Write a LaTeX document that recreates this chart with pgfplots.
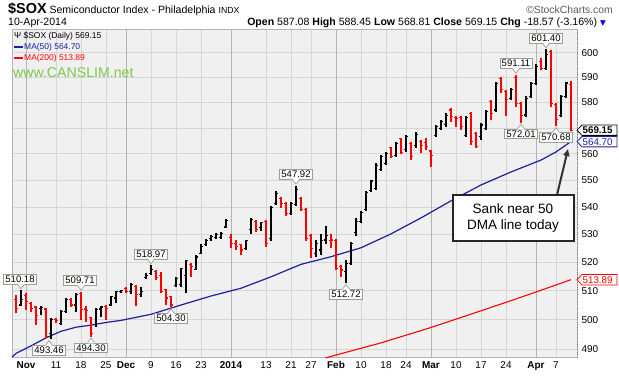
\documentclass[border=0pt]{standalone}
\usepackage{fontspec}
\setmainfont{Liberation Sans}
\newfontfamily\dejavu{DejaVu Sans}
\usepackage{pgfplots}
\pgfplotsset{compat=1.18}
\usepackage{pgfplotstable}
\usetikzlibrary{arrows.meta}

\definecolor{bg}{RGB}{240,240,240}
\definecolor{gridc}{RGB}{214,214,214}
\definecolor{gridm}{RGB}{180,180,180}
\definecolor{navy}{RGB}{30,30,160}
\definecolor{cgray}{RGB}{150,160,150}
\definecolor{cgreen}{RGB}{125,200,75}
\definecolor{hdrgray}{RGB}{90,90,90}

\pgfdeclareplotmark{tickL}{\pgfpathmoveto{\pgfqpoint{-2.4bp}{0pt}}\pgfpathlineto{\pgfqpoint{0pt}{0pt}}\pgfusepathqstroke}
\pgfdeclareplotmark{tickR}{\pgfpathmoveto{\pgfqpoint{0pt}{0pt}}\pgfpathlineto{\pgfqpoint{2.4bp}{0pt}}\pgfusepathqstroke}

% up (black) bars: trading-day index, open, high, low, close
\pgfplotstableread{
d o h l c
-2 505.1 510.18 504.8 506.9
2 504.0 504.8 501.7 504.2
4 495.5 500.6 493.46 500.2
6 498.9 503.4 498.3 502.8
7 502.8 507.5 502.3 506.9
9 505.1 509.2 502.8 508.6
13 498.3 504.0 497.7 503.4
14 503.7 504.6 501.1 504.4
16 505.1 508.3 504.6 508.0
17 507.5 509.9 505.7 509.7
18 509.9 510.3 509.2 510.1
20 509.7 512.6 508.9 512.1
22 508.6 511.4 508.0 509.7
23 514.7 516.1 514.0 515.5
24 516.1 518.97 515.5 517.5
29 511.7 515.0 511.4 514.4
30 512.1 518.0 511.4 517.7
31 515.5 520.9 509.2 520.6
33 517.5 522.5 517.3 521.9
34 523.3 526.6 523.1 525.8
35 526.3 528.4 525.8 527.8
36 528.4 529.9 527.8 529.4
37 529.0 530.5 528.4 529.9
38 529.0 530.9 528.2 530.3
39 532.7 535.6 532.4 535.0
43 525.0 528.0 524.4 527.7
44 531.7 536.0 530.2 535.6
46 532.4 534.7 531.3 534.2
48 528.4 540.3 527.8 539.7
49 541.4 545.8 540.8 545.2
52 537.8 542.0 537.2 541.4
53 540.8 547.92 540.3 546.4
57 523.1 528.0 521.9 526.6
58 524.4 530.2 522.7 527.8
59 528.0 533.0 526.6 529.7
63 516.7 520.9 512.72 519.7
64 519.7 527.4 519.1 526.8
65 530.8 536.0 529.5 534.7
66 534.7 538.4 534.2 538.1
67 539.0 545.8 538.4 545.4
68 546.0 550.1 545.8 549.7
69 546.8 556.4 546.4 555.6
70 553.9 559.5 553.3 558.9
71 556.4 560.8 555.6 560.2
73 559.5 564.6 558.9 564.0
75 561.5 567.2 560.8 566.6
77 563.3 568.3 562.1 567.4
81 567.0 571.1 566.6 570.5
82 569.9 573.1 569.2 572.4
83 571.4 575.7 570.5 574.8
87 567.2 574.8 566.6 574.2
90 566.6 571.8 565.3 571.1
91 569.9 577.0 569.2 576.3
93 577.0 588.2 576.1 587.6
96 581.6 585.9 581.0 585.0
99 575.0 582.4 574.2 581.6
100 582.3 588.2 581.6 587.6
101 587.6 595.2 587.0 594.4
103 593.7 601.40 593.0 599.1
106 574.8 582.8 574.2 582.3
107 582.3 588.3 581.6 587.72
}\upbars

% down (red) bars
\pgfplotstableread{
d o h l c
-3 507.1 508.6 502.3 504.0
-1 508.3 509.2 503.4 506.3
0 505.7 506.3 502.8 504.0
1 504.4 504.6 498.3 501.4
3 503.7 504.0 493.8 494.4
5 500.2 500.6 498.9 499.8
8 506.9 507.5 504.4 505.1
10 509.2 509.71 500.0 503.4
11 503.7 504.6 499.4 503.2
12 500.9 501.1 494.30 495.4
15 504.6 505.1 500.0 504.0
19 510.8 511.4 509.2 509.9
21 511.4 512.1 504.6 508.6
25 516.7 517.3 513.8 514.7
26 515.5 516.7 509.4 509.7
27 510.3 510.8 505.1 507.5
28 508.0 508.3 504.30 505.1
32 519.1 519.7 515.0 518.5
40 529.0 530.3 525.1 526.6
41 526.6 528.0 524.4 525.8
42 526.3 526.6 522.5 524.4
45 534.7 535.3 530.8 531.7
47 534.7 535.3 525.5 526.6
50 543.3 543.9 539.7 541.4
51 541.4 542.0 536.6 537.8
54 543.3 543.9 538.4 539.0
55 539.0 539.7 527.8 528.4
56 529.7 530.3 521.7 525.0
60 527.8 530.3 525.0 528.0
61 527.8 528.4 517.3 517.9
62 518.5 519.1 515.0 517.3
72 562.4 562.7 558.4 558.9
74 565.7 566.2 559.8 560.6
76 564.0 564.6 557.7 558.9
78 564.6 565.3 560.2 563.3
79 564.4 565.9 561.5 562.8
80 561.1 561.5 555.0 559.5
84 577.0 577.6 572.4 574.5
85 574.2 574.8 570.5 573.5
86 574.2 574.8 569.2 570.5
88 575.7 576.3 563.3 564.6
89 567.9 568.5 562.1 562.7
92 580.3 581.0 573.1 575.7
94 589.5 590.1 583.7 585.0
95 584.4 585.0 574.8 581.0
97 590.1 591.11 578.0 579.4
98 579.7 580.3 572.01 574.8
102 596.4 597.7 593.0 593.5
104 600.4 601.1 578.0 579.7
105 579.0 579.7 570.68 573.1
108 587.08 588.45 568.81 569.15
}\dnbars

\pgfplotstableread{
d v
-3.8 487.4
-3 488.7
0 491.2
3 493.9
6 496.1
9 497.5
12 498.2
15 499.1
18 499.8
24 501.9
30 505.1
36 508.2
42 510.9
48 514.9
54 519.3
60 522.0
66 525.2
72 530.2
78 536.0
84 542.3
90 548.2
96 553.1
102 557.6
105 560.7
108 564.70
}\maF

\pgfplotstableread{
d v
58.9 487.2
70 492.2
80 497.4
90 503.1
96 506.6
102 510.2
108 513.89
}\maT

\tikzset{
  lbox/.style={draw=cgray, fill=white, line width=0.7bp,
    font=\fontsize{9.6}{10}\selectfont, inner xsep=1.6bp, inner ysep=1.4bp},
}
% label above a high: #1 = index, #2 = value, #3 = box x-offset
\newcommand{\hiLab}[3]{%
  \node[lbox, anchor=south] at ([xshift=#3, yshift=6bp]axis cs:#1,#2) {#2};
  \fill[white] ([yshift=1.5bp]axis cs:#1,#2) -- ([xshift=-3.6bp,yshift=6.8bp]axis cs:#1,#2) -- ([xshift=3.6bp,yshift=6.8bp]axis cs:#1,#2) -- cycle;
  \draw[cgray, line width=0.7bp] ([xshift=-3.4bp,yshift=6bp]axis cs:#1,#2) -- ([yshift=1.5bp]axis cs:#1,#2) -- ([xshift=3.4bp,yshift=6bp]axis cs:#1,#2);
}
\newcommand{\loLab}[3]{%
  \node[lbox, anchor=north] at ([xshift=#3, yshift=-6bp]axis cs:#1,#2) {#2};
  \fill[white] ([yshift=-1.5bp]axis cs:#1,#2) -- ([xshift=-3.6bp,yshift=-6.8bp]axis cs:#1,#2) -- ([xshift=3.6bp,yshift=-6.8bp]axis cs:#1,#2) -- cycle;
  \draw[cgray, line width=0.7bp] ([xshift=-3.4bp,yshift=-6bp]axis cs:#1,#2) -- ([yshift=-1.5bp]axis cs:#1,#2) -- ([xshift=3.4bp,yshift=-6bp]axis cs:#1,#2);
}

\begin{document}
\begin{tikzpicture}
\path[use as bounding box] (0,0) rectangle (619bp,376bp);
\fill[white] (0,0) rectangle (619bp,376bp);
\begin{axis}[
  at={(12bp,18bp)}, anchor=south west,
  scale only axis, width=565bp, height=328bp,
  clip=false,
  ymode=log,
  xmin=-3.8, xmax=109.2, ymin=487.2, ymax=609.4,
  axis background/.style={fill=bg},
  axis line style={draw=gridm, line width=0.8bp},
  major tick length=0pt,
  xtick={-1,5,10,15,19,24,29,34,40,47,52,56,61,66,71,75,80,85,90,95,101,105},
  xticklabels={\textbf{Nov},11,18,25,\textbf{Dec},9,16,23,\textbf{2014},13,21,27,\textbf{Feb},10,18,24,\textbf{Mar},10,17,24,\textbf{Apr},7},
  ytick={490,500,510,520,530,540,550,560,570,580,590,600},
  yticklabels={490,500,510,520,530,540,550,560,,580,590,600},
  yticklabel pos=right,
  xmajorgrids, ymajorgrids,
  grid style={draw=gridc, line width=0.7bp},
  tick label style={font=\fontsize{10}{10}\selectfont},
  yticklabel style={anchor=west, xshift=1bp},
  xticklabel style={anchor=north, inner sep=0pt, yshift=-3.5bp},
  /pgf/number format/assume math mode=true,
]
% month grid lines darker
\addplot[gridm, line width=0.8bp, forget plot] coordinates {(-1,487.2) (-1,609.4)};
\addplot[gridm, line width=0.8bp, forget plot] coordinates {(19,487.2) (19,609.4)};
\addplot[gridm, line width=0.8bp, forget plot] coordinates {(40,487.2) (40,609.4)};
\addplot[gridm, line width=0.8bp, forget plot] coordinates {(61,487.2) (61,609.4)};
\addplot[gridm, line width=0.8bp, forget plot] coordinates {(80,487.2) (80,609.4)};
\addplot[gridm, line width=0.8bp, forget plot] coordinates {(101,487.2) (101,609.4)};
% dotted right-hand scale line
\addplot[gray, line width=0.8bp, dash pattern=on 1bp off 1.5bp, forget plot] coordinates {(109.2,487.2) (109.2,609.4)};

\addplot[navy, line width=1.2bp] table[x=d, y=v] {\maF};
\addplot[red, line width=1.1bp] table[x=d, y=v] {\maT};

\addplot[black, only marks, mark=tickL, mark options={line width=1.1bp},
  error bars/.cd, y dir=both, y explicit, error mark=none,
  error bar style={line width=1.1bp, black}]
  table[x=d, y=o, y error plus expr=\thisrow{h}-\thisrow{o}, y error minus expr=\thisrow{o}-\thisrow{l}] {\upbars};
\addplot[black, only marks, mark=tickR, mark options={line width=1.1bp}]
  table[x=d, y=c] {\upbars};
\addplot[red, only marks, mark=tickL, mark options={line width=1.1bp},
  error bars/.cd, y dir=both, y explicit, error mark=none,
  error bar style={line width=1.1bp, red}]
  table[x=d, y=o, y error plus expr=\thisrow{h}-\thisrow{o}, y error minus expr=\thisrow{o}-\thisrow{l}] {\dnbars};
\addplot[red, only marks, mark=tickR, mark options={line width=1.1bp}]
  table[x=d, y=c] {\dnbars};

% value callouts
\hiLab{-2}{510.18}{-1bp}
\hiLab{10}{509.71}{-1bp}
\loLab{3.6}{493.46}{0bp}
\loLab{12}{494.30}{0bp}
\hiLab{24}{518.97}{0bp}
\loLab{28}{504.30}{0bp}
\hiLab{53}{547.92}{0bp}
\loLab{63}{512.72}{0bp}
\hiLab{97}{591.11}{0bp}
\loLab{98}{572.01}{0bp}
\hiLab{103}{601.40}{0bp}
\loLab{105}{570.68}{0bp}

\coordinate (t1) at (axis cs:109.2,569.15);
\coordinate (t2) at (axis cs:109.2,564.70);
\coordinate (t3) at (axis cs:109.2,513.89);
\end{axis}

% right-hand value tags
\foreach \c/\col/\txt/\bf in {t1/black/569.15/\bfseries, t2/navy/564.70/, t3/red/513.89/}{
  \draw[\col, fill=white, line width=0.8bp] (\c) -- ++(5bp,5.2bp) -- ++(35bp,0) -- ++(0,-10.4bp) -- ++(-35bp,0) -- cycle;
  \node[anchor=west, inner sep=0, text=\col, font=\bf\fontsize{9.8}{10}\selectfont] at ([xshift=5.5bp]\c) {\txt};
}

% legend
\node[anchor=west, inner sep=0, font=\fontsize{8.5}{10}\selectfont] at (14bp,340bp) {Ψ \$SOX (Daily) 569.15};
\draw[navy, line width=1.3bp] (14bp,329bp) -- (23bp,329bp);
\node[anchor=west, inner sep=0, text=navy, font=\fontsize{8.5}{10}\selectfont] at (24bp,329bp) {MA(50) 564.70};
\draw[red, line width=1.3bp] (14bp,318bp) -- (23bp,318bp);
\node[anchor=west, inner sep=0, text=red, font=\fontsize{8.5}{10}\selectfont] at (24bp,318bp) {MA(200) 513.89};
\node[anchor=west, inner sep=0, text=cgreen, font=\fontsize{14.2}{14}\selectfont] at (13bp,303bp) {www.CANSLIM.net};

% header
\node[anchor=base west, inner sep=0] at (8bp,362bp) {{\bfseries\fontsize{14.5}{14}\selectfont \$SOX} {\fontsize{10.6}{10}\selectfont Semiconductor Index - Philadelphia {\fontsize{8.8}{8}\selectfont INDX}}};
\node[anchor=base east, inner sep=0, text=hdrgray, font=\fontsize{10.4}{10}\selectfont] at (613bp,362bp) {©StockCharts.com};
\node[anchor=base west, inner sep=0, font=\fontsize{10.6}{10}\selectfont] at (8bp,350bp) {10-Apr-2014};
\node[anchor=base east, inner sep=0, font=\fontsize{10.6}{10}\selectfont] at (606bp,350bp) {\textbf{Open} 587.08 \textbf{High} 588.45 \textbf{Low} 568.81 \textbf{Close} 569.15 \textbf{Chg} -18.57 (-3.16\%) {\color{blue}\dejavu\fontsize{7.5}{7}\selectfont ▼}};

% annotation
\draw[black!80, line width=2bp, -{Triangle[length=7bp,width=6bp]}] (557bp,181bp) -- (568bp,227bp);
\node[draw=black!85, line width=2bp, fill=white, align=center, minimum width=121bp, minimum height=46bp, inner sep=2bp, font=\fontsize{13.6}{15.5}\selectfont] at (513bp,158bp) {Sank near 50\\DMA line today};
\end{tikzpicture}
\end{document}
